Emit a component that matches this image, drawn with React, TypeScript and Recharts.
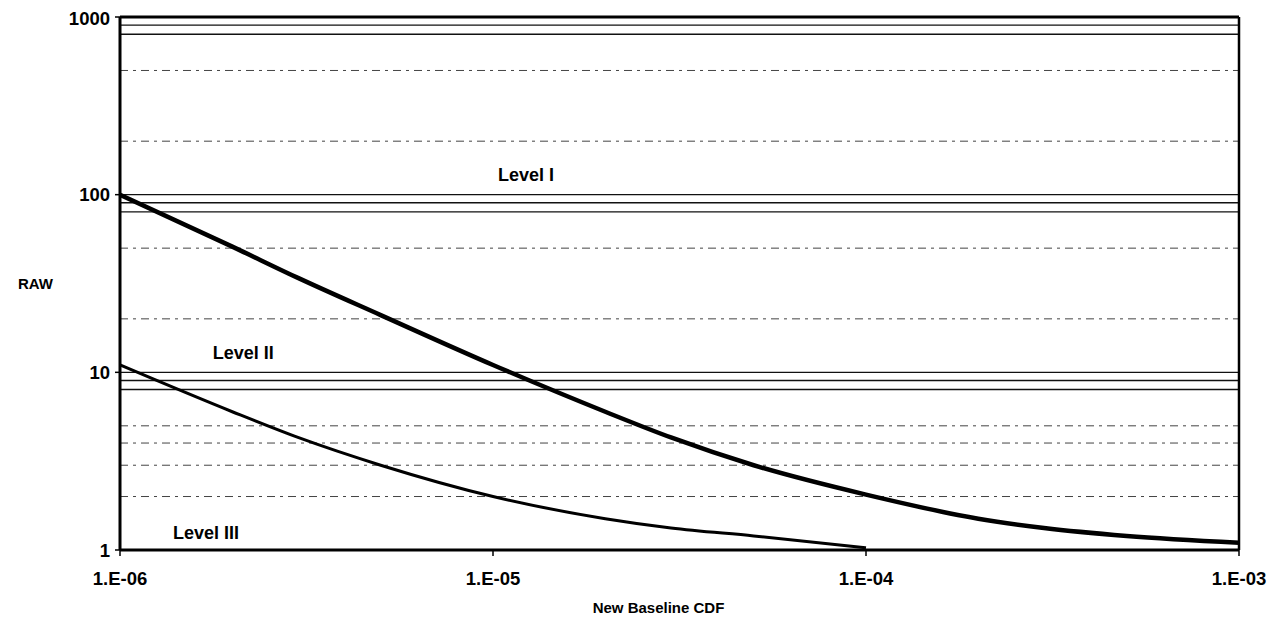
import React from 'react';
import { LineChart, Line, XAxis, YAxis, ReferenceLine, ReferenceDot, Label } from 'recharts';

const cdfValues = [1e-6, 2e-6, 3e-6, 5e-6, 1e-5, 2e-5, 3e-5, 5e-5, 1e-4, 2e-4, 3e-4, 5e-4, 1e-3];
const levelIBoundary = [100, 51, 34, 21, 11, 6, 4.3, 3, 2.05, 1.5, 1.33, 1.2, 1.1];
const levelIIBoundary = [11, 6, 4.3, 3, 2, 1.5, 1.33, 1.2, 1.03];

const xTicks = [1e-6, 1e-5, 1e-4, 1e-3];
const xTickLabels = ['1.E-06', '1.E-05', '1.E-04', '1.E-03'];
const yTicks = [1, 10, 100, 1000];
const yTickLabels = ['1', '10', '100', '1000'];

const solidGrid = [900, 800, 100, 90, 80, 10, 9, 8];
const dashedGrid = [500, 200, 50, 20, 5, 4, 3, 2];

const levelLabels = ['Level I', 'Level II', 'Level III'];
const levelLabelX = [1.226e-5, 2.14e-6, 1.7e-6];
const levelLabelY = [129, 12.84, 1.246];

const upperData = cdfValues.map((x, i) => ({ x, raw: levelIBoundary[i] }));
const lowerData = levelIIBoundary.map((v, i) => ({ x: cdfValues[i], raw: v }));

const FONT = '"Liberation Sans", Arial, Helvetica, sans-serif';

export default function App() {
  return (
    <div style={{ width: 1260, height: 617 }}>
      <LineChart
        width={1260}
        height={617}
        margin={{ top: 9, right: 29, left: 0, bottom: 0 }}
      >
        <XAxis
          dataKey="x"
          type="number"
          scale="log"
          domain={[1e-6, 1e-3]}
          ticks={xTicks}
          allowDataOverflow
          tickFormatter={(v: number) => xTickLabels[xTicks.findIndex((t) => Math.abs(t - v) / t < 1e-6)] ?? ''}
          height={75}
          tickSize={6}
          tickMargin={16}
          axisLine={{ stroke: '#000', strokeWidth: 3 }}
          tickLine={{ stroke: '#000', strokeWidth: 1.5 }}
          tick={{ fill: '#000', fontSize: 18.5, fontWeight: 700, fontFamily: FONT }}
        >
          <Label
            value="New Baseline CDF"
            position="insideBottom"
            offset={12}
            dx={-21}
            style={{ fill: '#000', fontSize: 15, fontWeight: 700, fontFamily: FONT }}
          />
        </XAxis>
        <YAxis
          type="number"
          scale="log"
          domain={[1, 1000]}
          ticks={yTicks}
          allowDataOverflow
          tickFormatter={(v: number) => yTickLabels[yTicks.findIndex((t) => Math.abs(t - v) / t < 1e-6)] ?? ''}
          width={112}
          tickSize={5}
          tickMargin={5}
          axisLine={{ stroke: '#000', strokeWidth: 3 }}
          tickLine={{ stroke: '#000', strokeWidth: 1.5 }}
          tick={{ fill: '#000', fontSize: 18.5, fontWeight: 700, fontFamily: FONT }}
        >
          <Label
            value="RAW"
            position="insideLeft"
            offset={10}
            angle={0}
            style={{ fill: '#000', fontSize: 15, fontWeight: 700, fontFamily: FONT, textAnchor: 'start' }}
          />
        </YAxis>

        {dashedGrid.map((v) => (
          <ReferenceLine key={'d' + v} y={v} stroke="#444" strokeWidth={1} strokeDasharray="8 5 3 5" />
        ))}
        {solidGrid.map((v) => (
          <ReferenceLine key={'s' + v} y={v} stroke="#111" strokeWidth={1.4} />
        ))}
        <ReferenceLine y={1000} stroke="#000" strokeWidth={3} />
        <ReferenceLine x={1e-3} stroke="#000" strokeWidth={2.5} />

        <Line
          data={upperData}
          dataKey="raw"
          type="monotone"
          stroke="#000"
          strokeWidth={4.5}
          dot={false}
          isAnimationActive={false}
        />
        <Line
          data={lowerData}
          dataKey="raw"
          type="monotone"
          stroke="#000"
          strokeWidth={3}
          dot={false}
          isAnimationActive={false}
        />

        {levelLabels.map((t, i) => (
          <ReferenceDot
            key={t}
            x={levelLabelX[i]}
            y={levelLabelY[i]}
            r={0}
            fill="none"
            stroke="none"
            label={{
              value: t,
              position: 'center',
              fill: '#000',
              fontSize: 18,
              fontWeight: 700,
              fontFamily: FONT,
            }}
          />
        ))}
      </LineChart>
    </div>
  );
}
